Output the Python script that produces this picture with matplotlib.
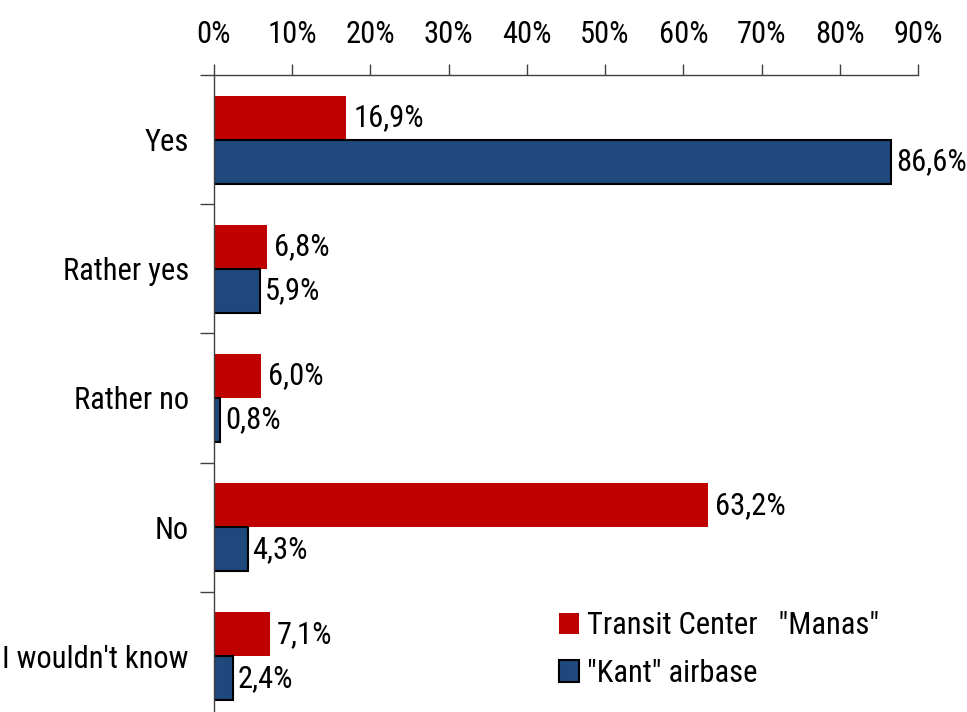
import matplotlib
matplotlib.use("Agg")
import matplotlib.pyplot as plt
from matplotlib import font_manager as fm
import numpy as np
import os

# find a condensed font file
files = [f.fname for f in fm.fontManager.ttflist] + list(fm.findSystemFonts())
prefs = ['LiberationSansNarrow-Regular', 'RobotoCondensed-Regular', 'Roboto_Condensed-Regular',
         'NotoSans-Condensed.', 'NotoSansCondensed-Regular', 'NotoSans-CondensedRegular',
         'OpenSans-CondensedRegular', 'OpenSans_Condensed-Regular', 'DejaVuSansCondensed.']
chosen = None
for p in prefs:
    for f in files:
        if p.lower() in os.path.basename(f).lower():
            chosen = f
            break
    if chosen:
        break
if chosen:
    fm.fontManager.addfont(chosen)
    fam = fm.FontProperties(fname=chosen).get_name()
else:
    fam = 'DejaVu Sans'
plt.rcParams['font.family'] = [fam, 'DejaVu Sans']

categories = ["Yes", "Rather yes", "Rather no", "No", "I wouldn't know"]
manas = [16.9, 6.8, 6.0, 63.2, 7.1]
kant = [86.6, 5.9, 0.8, 4.3, 2.4]
xticks = [0, 10, 20, 30, 40, 50, 60, 70, 80, 90]

FS = 22
fp = fm.FontProperties(fname=chosen, size=FS) if chosen else fm.FontProperties(size=FS)

fig = plt.figure(figsize=(9.67, 7.12), dpi=100)
ax = fig.add_axes([214/967, 1-721/712, (918-214)/967, (721-75)/712])

y = np.arange(len(categories))
h = 0.34
ax.barh(y - h/2, manas, height=h, color='#C00000', edgecolor='none', label='Transit Center   "Manas"')
ax.barh(y + h/2, kant, height=h, color='#1F497D', edgecolor='black', linewidth=1.5, label='"Kant" airbase')

for i in range(len(categories)):
    ax.text(manas[i] + 0.9, y[i] - h/2, f"{manas[i]:.1f}".replace('.', ',') + '%', va='center', ha='left', fontproperties=fp)
    ax.text(kant[i] + 0.6, y[i] + h/2, f"{kant[i]:.1f}".replace('.', ',') + '%', va='center', ha='left', fontproperties=fp)

ax.set_xlim(0, 90)
ax.set_ylim(len(categories) - 0.5, -0.5)
ax.xaxis.tick_top()
ax.set_xticks(xticks)
ax.set_xticklabels([f"{t}%" for t in xticks], fontproperties=fp)
ax.tick_params(axis='x', direction='out', length=8, width=1, color='#404040', pad=11)

ax.set_yticks(y)
ax.set_yticklabels(categories, fontproperties=fp)
ax.set_yticks(np.arange(-0.5, len(categories), 1), minor=True)
ax.tick_params(axis='y', which='major', length=0, pad=18)
ax.tick_params(axis='y', which='minor', length=10, width=1, color='#404040')

for s in ['right', 'bottom']:
    ax.spines[s].set_visible(False)
for s in ['top', 'left']:
    ax.spines[s].set_color('#404040')
    ax.spines[s].set_linewidth(1)

leg = ax.legend(loc='lower left', bbox_to_anchor=((547-214)/(918-214), (721-700)/(721-75)),
                frameon=False, prop=fp, handlelength=0.65, handleheight=0.7, handletextpad=0.25,
                labelspacing=0.6, borderaxespad=0)

fig.savefig('out.png', dpi=100)
